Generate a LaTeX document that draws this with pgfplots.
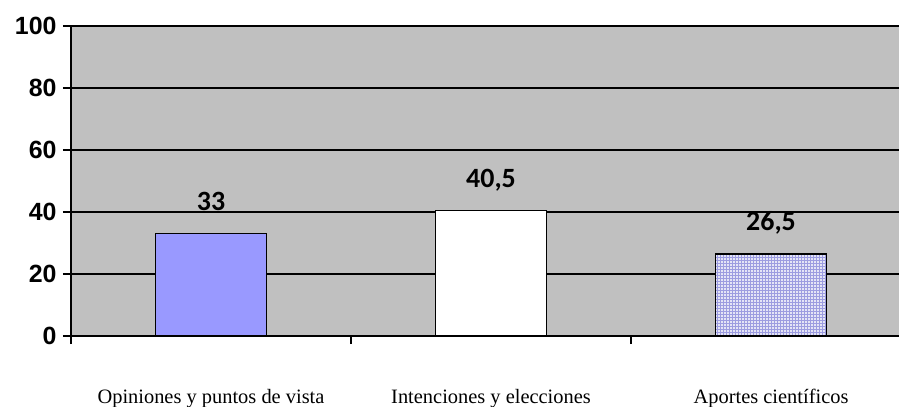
\documentclass[border=0pt]{standalone}
\usepackage{pgfplots}
\pgfplotsset{compat=1.18}
\usepackage{fontspec}
\setmainfont{Liberation Serif}
\newfontfamily\tickfont{Liberation Sans}
\newfontfamily\valfont{Carlito}
\usetikzlibrary{patterns}
\definecolor{plotbg}{HTML}{C0C0C0}
\definecolor{barA}{HTML}{9999FF}
\definecolor{barC}{HTML}{E4E4F6}
\definecolor{gridC}{HTML}{9C9CE0}
\begin{document}
\begin{tikzpicture}
\begin{axis}[
    name=ax,
    scale only axis,
    width=828bp, height=310bp,
    xmin=-0.5, xmax=2.457,
    ymin=0, ymax=100,
    ytick={0,20,...,100},
    xtick={-0.5,0.5,1.5},
    xticklabels={},
    extra x ticks={0,1,2},
    extra x tick labels={Opiniones y puntos de vista, Intenciones y elecciones, Aportes científicos},
    extra x tick style={major tick length=0pt, grid=none,
        xticklabel style={font=\fontsize{20.5}{20.5}\selectfont, anchor=base, yshift=-67bp}},
    axis x line*=bottom, axis y line*=left,
    axis line style={black, line width=1.4bp, -},
    ymajorgrids, major grid style={black, line width=1.4bp},
    tick style={black, line width=1.4bp},
    major tick length=8bp,
    xtick pos=bottom, ytick pos=left,
    tick align=outside,
    /pgf/number format/assume math mode=true,
    yticklabel style={font=\tickfont\bfseries\fontsize{25}{25}\selectfont, xshift=-3bp},
    axis background/.style={fill=plotbg},
    ybar, bar width=111bp,
    bar shift=0pt,
    point meta=explicit symbolic,
    nodes near coords,
    nodes near coords style={font=\valfont\bfseries\fontsize{28}{28}\selectfont, anchor=base, yshift=23bp},
    clip=false,
]
\addplot[draw=black, line width=1.4bp, fill=barA] coordinates {(0,33) [33]};
\addplot[draw=black, line width=1.4bp, fill=white] coordinates {(1,40.5) [40,5]};
\addplot[draw=black, line width=1.4bp, fill=barC, postaction={pattern=grid, pattern color=gridC}] coordinates {(2,26.5) [26,5]};
\end{axis}
\pgfresetboundingbox
\path[use as bounding box] ([shift={(-71bp,-71bp)}]ax.south west) rectangle ([shift={(0bp,26bp)}]ax.north east);
\end{tikzpicture}
\end{document}
